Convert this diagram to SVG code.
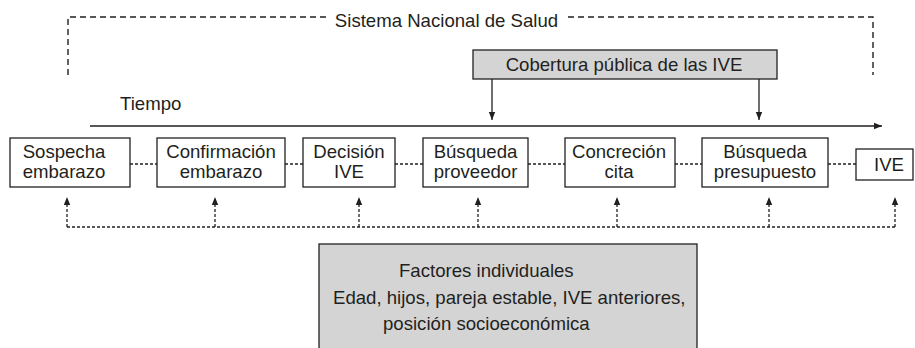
<svg xmlns="http://www.w3.org/2000/svg" width="915" height="348" viewBox="0 0 915 348">
<defs>
<style>
text{font-family:"Liberation Sans",Arial,sans-serif;font-size:18.6px;fill:#231f20}
.c{text-anchor:middle}
.box{fill:#fff;stroke:#231f20;stroke-width:1.3}
.gbox{fill:#d4d4d4;stroke:#231f20;stroke-width:1.3}
.dash{fill:none;stroke:#231f20;stroke-width:1.4;stroke-dasharray:6 4}
.dot{fill:none;stroke:#231f20;stroke-width:1.3;stroke-dasharray:3 2}
.solid{fill:none;stroke:#231f20;stroke-width:1.3}
</style>
<marker id="ah" viewBox="0 0 10 10" refX="10" refY="5" markerWidth="8" markerHeight="8" markerUnits="userSpaceOnUse" orient="auto">
<path d="M0,1 L10,5 L0,9 Z" fill="#231f20"/>
</marker>
</defs>
<rect width="915" height="348" fill="#fff"/>

<g id="sistema">
<path class="dash" d="M68,75 V17 H326"/>
<path class="dash" d="M568,17 H873 V75"/>
<text class="c" x="446.5" y="27">Sistema Nacional de Salud</text>
</g>

<g id="cobertura">
<rect class="gbox" x="473" y="50" width="304" height="29"/>
<text class="c" x="624" y="71">Cobertura pública de las IVE</text>
</g>

<g id="tiempo">
<text x="120" y="110">Tiempo</text>
</g>

<g id="connectors">
<path class="solid" d="M90,126 H882" marker-end="url(#ah)"/>
<path class="solid" d="M492,79 V120" marker-end="url(#ah)"/>
<path class="solid" d="M759,79 V120" marker-end="url(#ah)"/>
<path class="dot" d="M130,164 H157 M285,164 H303 M395,164 H423 M528,164 H565 M675,164 H702 M828,164 H856"/>
<path class="dot" d="M67,227 H895"/>
<path class="dot" d="M67,227 V197" marker-end="url(#ah)"/>
<path class="dot" d="M215,227 V197" marker-end="url(#ah)"/>
<path class="dot" d="M359,227 V197" marker-end="url(#ah)"/>
<path class="dot" d="M478,227 V197" marker-end="url(#ah)"/>
<path class="dot" d="M617,227 V197" marker-end="url(#ah)"/>
<path class="dot" d="M769,227 V197" marker-end="url(#ah)"/>
<path class="dot" d="M895,227 V197" marker-end="url(#ah)"/>
</g>

<g id="sospecha">
<rect class="box" x="10" y="138" width="120" height="49"/>
<text class="c" x="64" y="158">Sospecha</text>
<text class="c" x="64" y="178">embarazo</text>
</g>

<g id="confirmacion">
<rect class="box" x="157" y="138" width="128" height="49"/>
<text class="c" x="221" y="158">Confirmación</text>
<text class="c" x="221" y="178">embarazo</text>
</g>

<g id="decision">
<rect class="box" x="303" y="138" width="92" height="49"/>
<text class="c" x="349" y="158">Decisión</text>
<text class="c" x="349" y="178">IVE</text>
</g>

<g id="busqueda-proveedor">
<rect class="box" x="423" y="138" width="105" height="49"/>
<text class="c" x="475.5" y="158">Búsqueda</text>
<text class="c" x="475.5" y="178">proveedor</text>
</g>

<g id="concrecion">
<rect class="box" x="565" y="138" width="110" height="49"/>
<text class="c" x="619" y="158">Concreción</text>
<text class="c" x="619" y="178">cita</text>
</g>

<g id="busqueda-presupuesto">
<rect class="box" x="702" y="138" width="126" height="49"/>
<text class="c" x="765" y="158">Búsqueda</text>
<text class="c" x="765" y="178">presupuesto</text>
</g>

<g id="ive">
<rect class="box" x="856" y="149" width="57" height="31"/>
<text class="c" x="889" y="171">IVE</text>
</g>

<g id="factores">
<rect class="gbox" x="319" y="244" width="378" height="110"/>
<text x="399" y="277">Factores individuales</text>
<text x="333" y="304">Edad, hijos, pareja estable, IVE anteriores,</text>
<text x="383" y="330">posición socioeconómica</text>
</g>
</svg>
